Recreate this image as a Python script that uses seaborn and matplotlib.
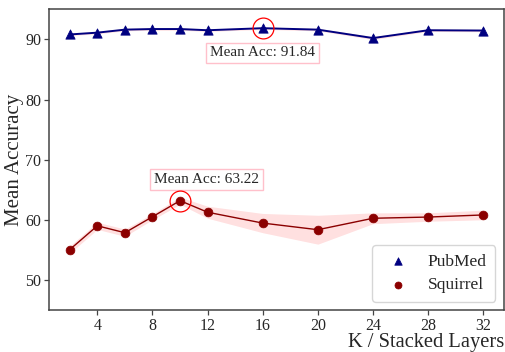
import numpy as np
import pandas as pd
import matplotlib
matplotlib.use("Agg")
import matplotlib.pyplot as plt
import seaborn as sns

# values
layers = [2, 4, 6, 8, 10, 12, 16, 20, 24, 28, 32]
pubmed_mean = [90.8, 91.1, 91.6, 91.7, 91.7, 91.5, 91.84, 91.6, 90.2, 91.5, 91.45]
pubmed_std = [0.2, 0.2, 0.2, 0.2, 0.2, 0.2, 0.2, 0.2, 0.25, 0.2, 0.2]
squirrel_mean = [55.1, 59.05, 57.9, 60.55, 63.22, 61.3, 59.5, 58.4, 60.3, 60.5, 60.85]
squirrel_std = [0.6, 0.6, 0.6, 0.5, 0.6, 1.0, 1.6, 2.4, 0.9, 0.7, 0.8]

sns.set_theme(style="ticks")
plt.rcParams['font.family'] = ['Liberation Serif', 'DejaVu Serif']

df = pd.DataFrame({"K": layers, "PubMed": pubmed_mean, "Squirrel": squirrel_mean})

fig = plt.figure(figsize=(5.06, 3.52), dpi=100)
ax = fig.add_axes([0.097, 0.118, 0.899, 0.856])

# pubmed
ax.fill_between(layers, np.array(pubmed_mean) - np.array(pubmed_std),
                np.array(pubmed_mean) + np.array(pubmed_std), color="red", alpha=0.12, lw=0)
sns.lineplot(data=df, x="K", y="PubMed", color="navy", lw=1.4, ax=ax, legend=False)
sns.scatterplot(data=df, x="K", y="PubMed", color="navy", marker="^", s=45,
                edgecolor="navy", label="PubMed", ax=ax, zorder=3)

# squirrel
ax.fill_between(layers, np.array(squirrel_mean) - np.array(squirrel_std),
                np.array(squirrel_mean) + np.array(squirrel_std), color="red", alpha=0.12, lw=0)
sns.lineplot(data=df, x="K", y="Squirrel", color="darkred", lw=1.0, ax=ax, legend=False)
sns.scatterplot(data=df, x="K", y="Squirrel", color="darkred", marker="o", s=40,
                edgecolor="darkred", label="Squirrel", ax=ax, zorder=3)

# highlight best points
bp = int(np.argmax(pubmed_mean))
bs = int(np.argmax(squirrel_mean))
ax.plot(layers[bp], pubmed_mean[bp], "o", ms=15, mfc="none", mec="red", mew=0.9, zorder=4)
ax.plot(layers[bs], squirrel_mean[bs], "o", ms=15, mfc="none", mec="red", mew=0.9, zorder=4)
box = dict(boxstyle="square,pad=0.25", fc="white", ec="pink", lw=1)
ax.text(layers[bp], pubmed_mean[bp] - 4.1, f"Mean Acc: {pubmed_mean[bp]:.2f}",
        ha="center", va="center", fontsize=11, bbox=box)
ax.text(layers[bs] + 1.9, squirrel_mean[bs] + 3.5, f"Mean Acc: {squirrel_mean[bs]:.2f}",
        ha="center", va="center", fontsize=11, bbox=box)

ax.set_ylim(45, 95)
ax.set_xticks([4, 8, 12, 16, 20, 24, 28, 32])
ax.set_yticks([50, 60, 70, 80, 90])
ax.tick_params(labelsize=11.5, length=3.5, width=0.9, color="#444444", pad=2)
for sp in ax.spines.values():
    sp.set_color("#444444")
    sp.set_linewidth(1.1)

ax.set_xlabel("K / Stacked Layers", fontsize=14.8, loc="right", labelpad=-1)
ax.set_ylabel("Mean Accuracy", fontsize=15, labelpad=1)

ax.legend(loc="lower right", fontsize=12.5, handletextpad=0.7, markerscale=0.8,
          borderpad=0.5, labelspacing=0.4, borderaxespad=0.5, frameon=True)

plt.savefig("out.png", dpi=100)
